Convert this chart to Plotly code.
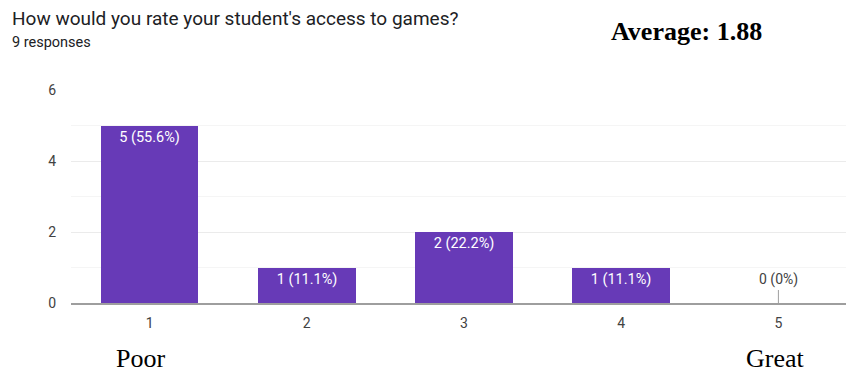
import plotly.graph_objects as go

categories = [1, 2, 3, 4, 5]
counts = [5, 1, 2, 1, 0]
y_ticks = [0, 2, 4, 6]
total = sum(counts)

def pct(v):
    p = v / total * 100
    return f"{v} ({p:.1f}%)" if v else f"{v} (0%)"

labels = [pct(v) if v else "" for v in counts]

SANS = "Roboto, Arial, sans-serif"
SERIF = "Liberation Serif, Times New Roman, serif"

fig = go.Figure()
fig.add_trace(go.Bar(
    x=categories, y=counts, width=0.62,
    marker=dict(color="#673ab7", line=dict(width=0)),
    text=labels, textposition="inside", insidetextanchor="end",
    textfont=dict(family=SANS, size=14.5, color="white"),
    cliponaxis=False,
))

for c, v in zip(categories, counts):
    if v == 0:
        fig.add_annotation(x=c, y=v, xref="x", yref="y", text=pct(v),
                           showarrow=True, arrowhead=0, arrowwidth=1,
                           arrowcolor="#9e9e9e", ax=0, ay=-13, yanchor="bottom",
                           font=dict(family=SANS, size=14, color="#424242"))

fig.update_layout(
    width=846, height=372,
    margin=dict(l=71, r=0, t=90, b=69),
    plot_bgcolor="white", paper_bgcolor="white",
    showlegend=False,
    bargap=0,
    xaxis=dict(range=[0.5, 5.43], tickvals=categories, ticktext=[str(c) for c in categories],
               showgrid=False, zeroline=False, showline=True, linecolor="#9e9e9e", linewidth=1.5,
               ticks="", ticklabelstandoff=6,
               tickfont=dict(family=SANS, size=14, color="#424242"),
               fixedrange=True),
    yaxis=dict(range=[0, 6], tickvals=y_ticks, showgrid=True, gridcolor="#ebebeb", gridwidth=1,
               zeroline=False, ticks="", ticklabelstandoff=14,
               tickfont=dict(family=SANS, size=14, color="#424242"),
               minor=dict(dtick=1, showgrid=True, gridcolor="#f5f5f5", gridwidth=1),
               fixedrange=True),
)

PW, PH = 775, 213
fig.add_annotation(xref="paper", yref="paper", x=(10 - 71) / PW, y=1 + (90 - 18) / PH, xanchor="left", yanchor="middle",
                   text="How would you rate your student's access to games?", showarrow=False,
                   font=dict(family=SANS, size=19, color="#202124"))
fig.add_annotation(xref="paper", yref="paper", x=(10 - 71) / PW, y=1 + (90 - 43) / PH, xanchor="left", yanchor="middle",
                   text="9 responses", showarrow=False,
                   font=dict(family=SANS, size=14.5, color="#202124"))
fig.add_annotation(xref="paper", yref="paper", x=(686 - 71) / PW, y=1 + (90 - 31) / PH, xanchor="center", yanchor="middle",
                   text="<b>Average: 1.88</b>", showarrow=False,
                   font=dict(family=SERIF, size=26, color="black"))
fig.add_annotation(xref="paper", yref="paper", x=(140 - 71) / PW, y=-(358 - 303) / PH, xanchor="center", yanchor="middle",
                   text="Poor", showarrow=False,
                   font=dict(family=SERIF, size=26, color="black"))
fig.add_annotation(xref="paper", yref="paper", x=(775 - 71) / PW, y=-(358 - 303) / PH, xanchor="center", yanchor="middle",
                   text="Great", showarrow=False,
                   font=dict(family=SERIF, size=26, color="black"))

fig.write_html("out.html", config={"displayModeBar": False})
